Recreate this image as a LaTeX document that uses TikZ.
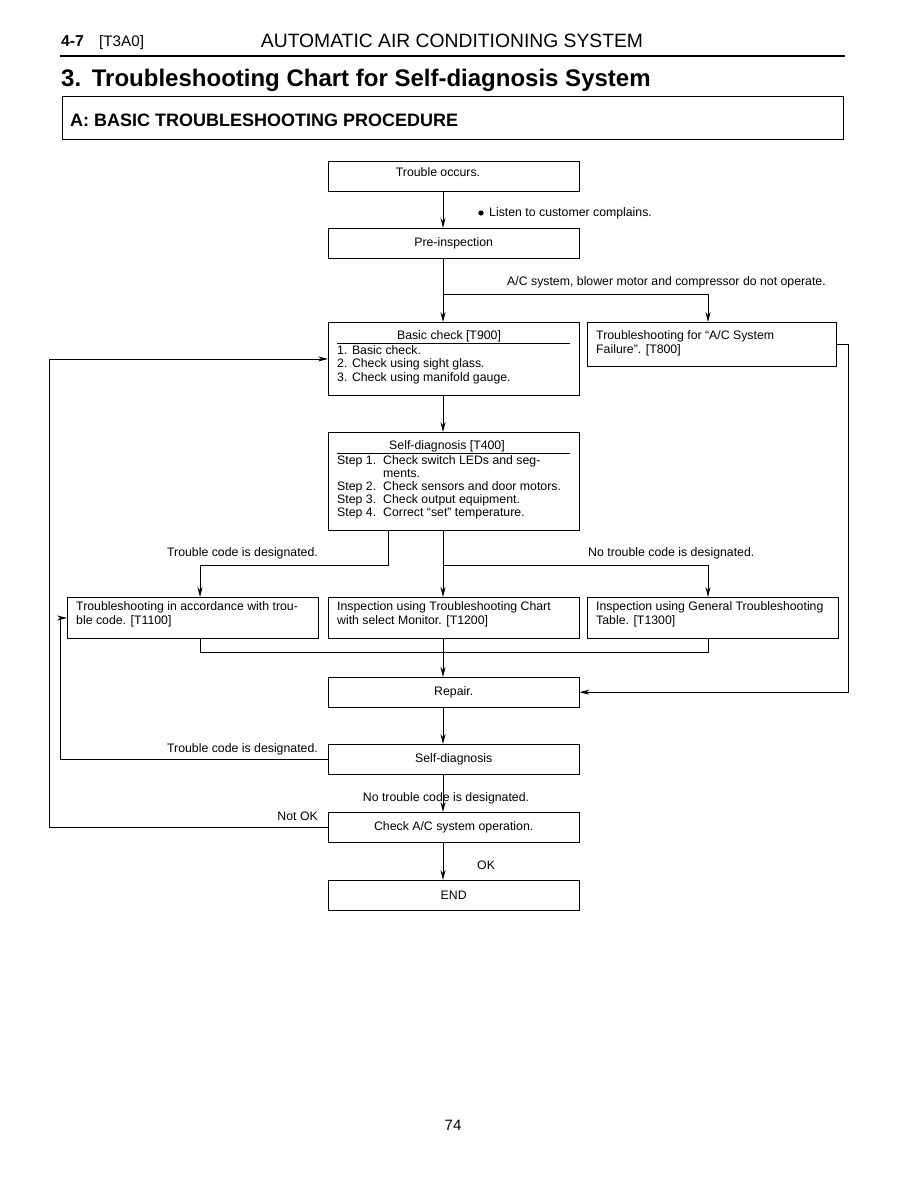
\documentclass[tikz,border=0pt]{standalone}
\usepackage{fontspec}
\setmainfont{Liberation Sans}
\usetikzlibrary{arrows.meta}
\newcommand{\boxfont}{\fontsize{12.3}{13.5}\selectfont}
\begin{document}
\begin{tikzpicture}[x=1pt,y=-1pt,
  box/.style={draw, line width=0.9pt, minimum width=250.5pt, minimum height=29.5pt, anchor=north west, inner sep=0pt, font=\boxfont},
  txt/.style={font=\boxfont, inner sep=0pt, text height=9pt, text depth=2.6pt, anchor=west},
  ctxt/.style={font=\boxfont, inner sep=0pt, text height=9pt, text depth=2.6pt},
  ln/.style={line width=0.8pt},
  arr/.style={line width=0.8pt, -{Stealth[length=10pt,width=5pt]}}]
\useasboundingbox[fill=white] (0,0) rectangle (918,1188);

% header
\node[anchor=base west, inner sep=0pt] (pg) at (61,47) {\fontsize{15.8}{17}\selectfont\bfseries 4-7};
\node[anchor=base west, inner sep=0pt] (pgc) at (99,47) {\fontsize{15.2}{17}\selectfont [T3A0]};
\node[anchor=base, inner sep=0pt] (hdr) at (452,48) {\fontsize{19.3}{21}\selectfont AUTOMATIC AIR CONDITIONING SYSTEM};
\coordinate (rl) at (60,56);
\coordinate (rr) at (845,56);
\draw[line width=2.6pt] (rl) -- (rr);
\node[anchor=west, inner sep=0pt] (title) at (61,80) {\fontsize{24}{26}\selectfont\bfseries 3.\ \,Troubleshooting Chart for Self-diagnosis System};
\node[draw, line width=0.9pt, anchor=north west, minimum width=781pt, minimum height=43pt, inner sep=0pt] (secA) at (62,96) {};
\node[anchor=west, inner sep=0pt] (secAt) at (70,120) {\fontsize{18}{20}\selectfont\bfseries A:\ BASIC TROUBLESHOOTING PROCEDURE};

% column coordinates
\coordinate (mx) at (443,0);
\coordinate (rx) at (708,0);
\coordinate (lx) at (200,0);
\coordinate (sx) at (388,0);
\coordinate (ox) at (49,0);
\coordinate (ix) at (60,0);
\coordinate (ex) at (848,0);

% boxes
\node[box] (occ) at (328,161) {};
\node[ctxt] (occt) at (438,173) {Trouble occurs.};
\node[box] (pre) at (328,228) {Pre-inspection};
\node[box, minimum height=73pt] (basic) at (328,322) {};
\node[box, minimum width=249pt, minimum height=44pt] (t800) at (587,322) {};
\node[box, minimum height=98pt] (selfd) at (328,432) {};
\node[box, minimum width=251pt, minimum height=41pt] (t1100) at (67,597) {};
\node[box, minimum height=41pt] (t1200) at (328,597) {};
\node[box, minimum width=251pt, minimum height=41pt] (t1300) at (587,597) {};
\node[box] (repair) at (328,677) {Repair.};
\node[box] (selfd2) at (328,744) {Self-diagnosis};
\node[box, minimum height=30pt] (check) at (328,812) {Check A/C system operation.};
\node[box, minimum height=30pt] (endb) at (328,880) {END};

% box texts
\node[ctxt] (bct) at (449,336) {Basic check [T900]};
\coordinate (bu1) at (337,343);
\coordinate (bu2) at (570,343);
\draw[line width=0.7pt] (bu1) -- (bu2);
\node[txt] (b1) at (337,351) {1. Basic check.};
\node[txt] (b2) at (337,364.5) {2. Check using sight glass.};
\node[txt] (b3) at (337,378) {3. Check using manifold gauge.};

\node[txt] (t8a) at (596,336) {Troubleshooting for \textquotedblleft A/C System};
\node[txt] (t8b) at (596,350) {Failure\textquotedblright. [T800]};

\node[ctxt] (sdt) at (447,446) {Self-diagnosis [T400]};
\coordinate (su1) at (337,453);
\coordinate (su2) at (570,453);
\draw[line width=0.7pt] (su1) -- (su2);
\node[txt] (s1) at (337,461) {Step 1.};
\node[txt] (s1t) at (383,461) {Check switch LEDs and seg-};
\node[txt] (s1u) at (383,474) {ments.};
\node[txt] (s2) at (337,487) {Step 2.};
\node[txt] (s2t) at (383,487) {Check sensors and door motors.};
\node[txt] (s3) at (337,500) {Step 3.};
\node[txt] (s3t) at (383,500) {Check output equipment.};
\node[txt] (s4) at (337,513) {Step 4.};
\node[txt] (s4t) at (383,513) {Correct \textquotedblleft set\textquotedblright\ temperature.};

\node[txt] (t11a) at (76,607.5) {Troubleshooting in accordance with trou-};
\node[txt] (t11b) at (76,621) {ble code. [T1100]};
\node[txt] (t12a) at (337,607.5) {Inspection using Troubleshooting Chart};
\node[txt] (t12b) at (337,621) {with select Monitor. [T1200]};
\node[txt] (t13a) at (596,607.5) {Inspection using General Troubleshooting};
\node[txt] (t13b) at (596,621) {Table. [T1300]};

% labels
\node[circle, fill, inner sep=0pt, minimum size=5.2pt] (bul) at (481,213) {};
\node[txt] (lbl1) at (489,213) {Listen to customer complains.};
\node[txt] (lbl2) at (507,282) {A/C system, blower motor and compressor do not operate.};
\node[ctxt, anchor=east] (lbl3) at (318,553) {Trouble code is designated.};
\node[txt] (lbl4) at (588,553) {No trouble code is designated.};
\node[ctxt, anchor=east] (lbl5) at (318,749) {Trouble code is designated.};
\node[ctxt] (lbl6) at (446,798) {No trouble code is designated.};
\node[ctxt, anchor=east] (lbl7) at (318,817) {Not OK};
\node[txt] (lbl8) at (477,866) {OK};

% branch points
\coordinate (j1) at (443,294);
\coordinate (j2) at (443,565);
\coordinate (j3) at (443,652);

% connectors
\draw[arr] (occ.south -| mx) -- (pre.north -| mx);
\draw[arr] (pre.south -| mx) -- (basic.north -| mx);
\draw[arr] (j1) -| (t800.north -| rx);
\draw[arr] (basic.south -| mx) -- (selfd.north -| mx);
\draw[arr] (selfd.south -| mx) -- (t1200.north -| mx);
\draw[arr] (j2) -| (t1300.north -| rx);
\draw[arr] (selfd.south -| sx) -- (sx |- j2) -| (t1100.north -| lx);
\draw[ln] (t1100.south -| lx) -- (lx |- j3) -- (rx |- j3) -- (t1300.south -| rx);
\draw[arr] (t1200.south -| mx) -- (repair.north -| mx);
\draw[arr] (t800.east) -- (t800.east -| ex) |- (repair.east);
\draw[arr] (repair.south -| mx) -- (selfd2.north -| mx);
\draw[arr] (selfd2.west) -- (selfd2.west -| ix) |- (t1100.west);
\draw[arr] (selfd2.south -| mx) -- (check.north -| mx);
\draw[arr] (check.west) -- (check.west -| ox) |- (basic.west);
\draw[arr] (check.south -| mx) -- (endb.north -| mx);

% page number
\node[inner sep=0pt] (pnum) at (453,1125) {\fontsize{15}{17}\selectfont 74};
\end{tikzpicture}
\end{document}
